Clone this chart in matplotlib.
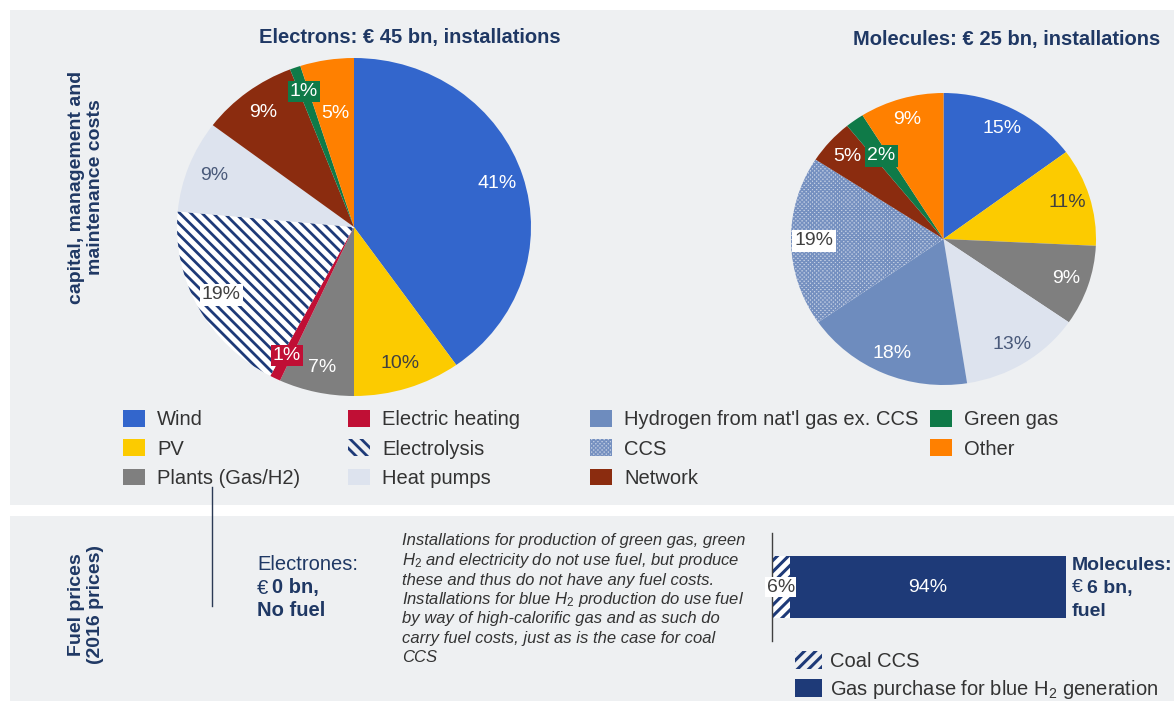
import matplotlib
matplotlib.use("Agg")
import matplotlib.pyplot as plt
from matplotlib.patches import Patch, Rectangle
from matplotlib.lines import Line2D

# ---- data ----
electrons_cats = ["Wind", "PV", "Plants (Gas/H2)", "Electric heating", "Electrolysis",
                  "Heat pumps", "Network", "Green gas", "Other"]
electrons_share = [41, 10, 7, 1, 19, 9, 9, 1, 5]

molecules_cats = ["Wind", "PV", "Plants (Gas/H2)", "Heat pumps",
                  "Hydrogen from nat'l gas ex. CCS", "CCS", "Network", "Green gas", "Other"]
molecules_share = [15, 11, 9, 13, 18, 19, 5, 2, 9]

legend_cols = [
    ["Wind", "PV", "Plants (Gas/H2)"],
    ["Electric heating", "Electrolysis", "Heat pumps"],
    ["Hydrogen from nat'l gas ex. CCS", "CCS", "Network"],
    ["Green gas", "Other"],
]

fuel_cats = ["Coal CCS", "Gas purchase for blue H$_2$ generation"]
fuel_share = [6, 94]

note_lines = [
    "Installations for production of green gas, green",
    "H$_2$ and electricity do not use fuel, but produce",
    "these and thus do not have any fuel costs.",
    "Installations for blue H$_2$ production do use fuel",
    "by way of high-calorific gas and as such do",
    "carry fuel costs, just as is the case for coal",
    "CCS",
]

# ---- styles ----
NAVY = "#1f3864"
BAR_NAVY = "#1e3a78"
PANEL = "#eef0f2"
styles = {
    "Wind": dict(fc="#3366cc", tc="white"),
    "PV": dict(fc="#fccb00", tc="#404040"),
    "Plants (Gas/H2)": dict(fc="#7f7f7f", tc="white"),
    "Electric heating": dict(fc="#c00f35", tc="white"),
    "Electrolysis": dict(fc="white", hatch="\\\\\\", ec=BAR_NAVY, tc="#404040", hlw=2.0),
    "Heat pumps": dict(fc="#dde3ee", tc="#4a5a7a"),
    "Hydrogen from nat'l gas ex. CCS": dict(fc="#6e8cbe", tc="white"),
    "CCS": dict(fc="#c5d0e4", hatch="xxxxxxxx", ec="#7590c0", tc="#404040", hlw=1.1),
    "Network": dict(fc="#8b2c0f", tc="white"),
    "Green gas": dict(fc="#0f7a48", tc="white"),
    "Other": dict(fc="#ff8000", tc="white"),
}
fuel_styles = [dict(fc="white", hatch="///", ec=BAR_NAVY), dict(fc=BAR_NAVY)]
# label radius tweaks (default 0.85)
label_r = {("e", "Other"): 0.68, ("m", "Green gas"): 0.7}

plt.rcParams["font.family"] = ["Liberation Sans", "DejaVu Sans"]
plt.rcParams["mathtext.fontset"] = "custom"
plt.rcParams["mathtext.rm"] = "Liberation Sans"
plt.rcParams["mathtext.it"] = "Liberation Sans:italic"
plt.rcParams["hatch.linewidth"] = 2.2

W, H = 1174, 701
fig = plt.figure(figsize=(W / 100, H / 100), dpi=100)


def fx(x):
    return x / W


def fy(y):
    return 1 - y / H


def set_hlw(p, lw):
    if hasattr(p, "set_hatch_linewidth"):
        p.set_hatch_linewidth(lw)


# background panels
fig.patches.append(Rectangle((fx(10), fy(505)), 1, (505 - 10) / H, transform=fig.transFigure,
                             facecolor=PANEL, edgecolor="none", zorder=-5))
fig.patches.append(Rectangle((fx(10), 0), 1, (701 - 516) / H, transform=fig.transFigure,
                             facecolor=PANEL, edgecolor="none", zorder=-5))


def draw_pie(key, box, cats, vals, boxed):
    l, t, r, b = box
    ax = fig.add_axes([fx(l), fy(b), (r - l) / W, (b - t) / H])
    it = iter(vals)
    wedges, texts, autotexts = ax.pie(
        vals, colors=[styles[c]["fc"] for c in cats], startangle=90, counterclock=False,
        autopct=lambda p: f"{next(it)}%", pctdistance=0.85,
        wedgeprops=dict(linewidth=0), textprops=dict(fontsize=14))
    for w, c, at in zip(wedges, cats, autotexts):
        st = styles[c]
        if "hatch" in st:
            w.set_hatch(st["hatch"])
            w.set_edgecolor(st["ec"])
            w.set_linewidth(0)
            set_hlw(w, st["hlw"])
        at.set_color(st["tc"])
        if (key, c) in label_r:
            x, y = at.get_position()
            k = label_r[(key, c)] / 0.85
            at.set_position((x * k, y * k))
        if c in boxed:
            bg = "white" if "hatch" in st else st["fc"]
            at.set_bbox(dict(facecolor=bg, edgecolor="none", pad=1.5))
            if bg != "white":
                at.set_color("white")
    ax.set_aspect("auto")
    ax.set_xlim(-1, 1)
    ax.set_ylim(-1, 1)
    ax.axis("off")
    return ax


draw_pie("e", (177, 58, 531, 396), electrons_cats, electrons_share,
         {"Electric heating", "Electrolysis", "Green gas"})
draw_pie("m", (791, 93, 1096, 385), molecules_cats, molecules_share, {"CCS", "Green gas"})

fig.text(fx(410), fy(38), "Electrons: € 45 bn, installations", ha="center", va="center",
         fontsize=14.5, fontweight="bold", color=NAVY)
fig.text(fx(1007), fy(40), "Molecules: € 25 bn, installations", ha="center", va="center",
         fontsize=14.5, fontweight="bold", color=NAVY)
fig.text(fx(86), fy(187), "capital, management and\nmaintenance costs", rotation=90,
         ha="center", va="center", fontsize=14, fontweight="bold", color=NAVY,
         linespacing=1.1)
fig.text(fx(86), fy(605), "Fuel prices\n(2016 prices)", rotation=90,
         ha="center", va="center", fontsize=14, fontweight="bold", color=NAVY,
         linespacing=1.1)


def handle(c):
    st = styles[c]
    if "hatch" in st:
        return Patch(facecolor=PANEL if c == "Electrolysis" else st["fc"],
                     edgecolor=st["ec"], hatch=st["hatch"], linewidth=0)
    return Patch(facecolor=st["fc"], edgecolor="none")


col_x = [123, 348, 590, 930]
for x, cats in zip(col_x, legend_cols):
    leg = fig.legend([handle(c) for c in cats], cats, loc="upper left",
                     bbox_to_anchor=(fx(x), fy(410)), frameon=False, fontsize=14.5,
                     handlelength=1.1, handleheight=0.9, handletextpad=0.6,
                     labelspacing=0.5, borderpad=0, borderaxespad=0, labelcolor="#333333")
    for h, c in zip(leg.legend_handles, cats):
        if "hatch" in styles[c]:
            set_hlw(h, styles[c]["hlw"])

# divider line
fig.add_artist(Line2D([fx(212), fx(212)], [fy(487), fy(606)], color="#2b3a55", lw=1))

# electrons fuel text
tx = 257
fig.text(fx(tx), fy(565), "Electrones:", fontsize=14.5, color=NAVY, va="center")
fig.text(fx(tx), fy(588), "€", fontsize=14.5, color=NAVY, va="center")
fig.text(fx(tx + 15), fy(588), "0 bn,", fontsize=14.5, color=NAVY, va="center",
         fontweight="bold")
fig.text(fx(tx), fy(611), "No fuel", fontsize=14.5, color=NAVY, va="center", fontweight="bold")

for i, line in enumerate(note_lines):
    fig.text(fx(402), fy(541 + 19.5 * i), line, fontsize=12, style="italic", color="#333333",
             va="center", family=["Liberation Sans Narrow", "Liberation Sans"])

# fuel bar
axb = fig.add_axes([fx(772), fy(641), (1066 - 772) / W, (641 - 533) / H])
left = 0
for c, v, st in zip(fuel_cats, fuel_share, fuel_styles):
    axb.barh(0, v, left=left, height=0.574, color=st["fc"], linewidth=0,
             hatch=st.get("hatch"), edgecolor=st.get("ec", "none"))
    if "hatch" in st:
        axb.text(left + v / 2, 0, f"{v}%", ha="center", va="center", fontsize=14,
                 color="#404040", bbox=dict(facecolor="white", edgecolor="none", pad=1))
    else:
        axb.text(left + v / 2, 0, f"{v}%", ha="center", va="center", fontsize=14,
                 color="white")
    left += v
axb.set_xlim(0, 100)
axb.set_ylim(-0.5, 0.5)
axb.set_xticks([])
axb.set_yticks([])
for s in ["top", "right", "bottom"]:
    axb.spines[s].set_visible(False)
axb.spines["left"].set_color("#404040")
axb.spines["left"].set_linewidth(1)
axb.patch.set_visible(False)

fig.text(fx(1072), fy(565), "Molecules:", fontsize=14, color=NAVY, va="center", fontweight="bold")
fig.text(fx(1072), fy(588), "€", fontsize=14, color=NAVY, va="center")
fig.text(fx(1087), fy(588), "6 bn,", fontsize=14, color=NAVY, va="center", fontweight="bold")
fig.text(fx(1072), fy(611), "fuel", fontsize=14, color=NAVY, va="center", fontweight="bold")

fuel_handles = [Patch(facecolor=PANEL, edgecolor=BAR_NAVY, hatch="///", linewidth=0),
                Patch(facecolor=BAR_NAVY, edgecolor="none")]
fig.legend(fuel_handles, fuel_cats, loc="upper left", bbox_to_anchor=(fx(795), fy(651)),
           frameon=False, fontsize=14.5, handlelength=1.35, handleheight=1.0,
           handletextpad=0.4, labelspacing=0.35, borderpad=0, borderaxespad=0,
           labelcolor="#333333")

fig.savefig("out.png", dpi=100, facecolor="white")
